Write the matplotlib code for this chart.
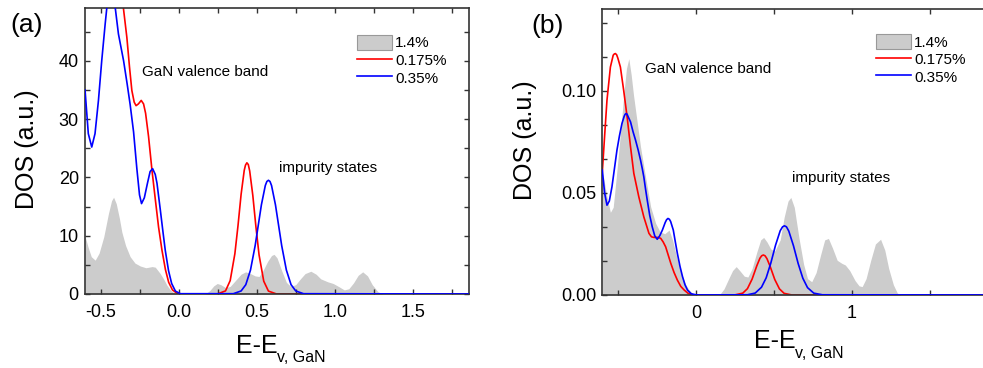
import matplotlib
matplotlib.use("Agg")
import matplotlib.pyplot as plt
from matplotlib.patches import Patch
from matplotlib.lines import Line2D
from matplotlib.ticker import MultipleLocator, FormatStrFormatter

plt.rcParams['font.family'] = ['Liberation Sans', 'DejaVu Sans']
plt.rcParams['axes.unicode_minus'] = False

# ---------------- panel (a) data ----------------
a_grey_x = [-0.60, -0.58, -0.56, -0.535, -0.51, -0.48, -0.45, -0.43, -0.417, -0.40, -0.38, -0.364,
            -0.34, -0.311, -0.28, -0.246, -0.21, -0.17, -0.15, -0.118, -0.095, -0.075, -0.05, -0.021,
            0.0, 0.17, 0.20, 0.225, 0.247, 0.27, 0.30, 0.33, 0.36, 0.40, 0.429, 0.46, 0.49, 0.515,
            0.54, 0.57, 0.595, 0.611, 0.63, 0.66, 0.69, 0.718, 0.75, 0.78, 0.81, 0.847, 0.88, 0.91,
            0.954, 0.99, 1.03, 1.061, 1.09, 1.12, 1.15, 1.179, 1.21, 1.24, 1.276, 1.31, 1.90]
a_grey_y = [9.9, 8.0, 6.4, 5.8, 7.0, 9.8, 13.8, 16.0, 16.6, 15.5, 13.0, 10.6,
            8.3, 6.4, 5.3, 4.8, 4.5, 4.7, 4.6, 3.5, 2.5, 1.5, 0.6, 0.05,
            0.0, 0.0, 0.6, 1.4, 1.8, 1.6, 1.1, 1.3, 2.2, 3.4, 3.8, 3.5, 3.1, 3.0,
            4.0, 5.6, 6.6, 6.8, 6.2, 4.0, 2.0, 1.3, 1.6, 2.6, 3.5, 3.9, 3.4, 2.6,
            2.1, 1.8, 1.2, 0.7, 0.9, 1.9, 3.2, 3.8, 3.1, 1.6, 0.4, 0.0, 0.0]

a_red_x = [-0.60, -0.50, -0.43, -0.38, -0.354, -0.332, -0.315, -0.300, -0.285, -0.273, -0.258,
           -0.240, -0.225, -0.212, -0.193, -0.171, -0.150, -0.129, -0.107, -0.085, -0.064, -0.040,
           -0.010, 0.020, 0.250, 0.30, 0.33, 0.36, 0.38, 0.40, 0.42, 0.428, 0.437, 0.446, 0.455,
           0.475, 0.495, 0.515, 0.545, 0.575, 0.625, 1.90]
a_red_y = [56, 66, 68, 58, 49, 44.0, 38.9, 34.9, 32.9, 32.3, 32.6,
           33.2, 32.6, 31.0, 27.0, 21.2, 16.3, 11.5, 7.5, 4.2, 2.0, 0.7,
           0.1, 0.0, 0.02, 0.53, 2.3, 6.9, 11.7, 17.1, 21.2, 22.1, 22.5, 22.2, 21.1,
           16.9, 11.5, 6.7, 2.2, 0.5, 0.02, 0.0]

a_blue_x = [-0.60, -0.579, -0.557, -0.536, -0.514, -0.493, -0.471, -0.455, -0.435, -0.415, -0.407,
            -0.386, -0.353, -0.330, -0.311, -0.289, -0.268, -0.251, -0.238, -0.220, -0.200, -0.183,
            -0.167, -0.150, -0.139, -0.118, -0.100, -0.086, -0.065, -0.045, -0.021, 0.011, 0.35,
            0.40, 0.43, 0.46, 0.49, 0.51, 0.53, 0.555, 0.565, 0.575, 0.585, 0.595, 0.62, 0.64, 0.66,
            0.69, 0.72, 0.75, 0.80, 1.90]
a_blue_y = [35.0, 27.5, 25.2, 27.5, 33.2, 40.0, 46.3, 50.5, 52.0, 50.5, 49.2,
            44.6, 40.0, 36.0, 32.5, 27.8, 21.5, 17.0, 15.5, 16.5, 19.0, 21.0,
            21.5, 20.5, 19.0, 14.5, 10.5, 7.5, 4.0, 1.8, 0.5, 0.05, 0.05,
            0.52, 1.6, 4.1, 8.3, 11.8, 15.3, 18.6, 19.3, 19.5, 19.3, 18.6, 15.3, 11.8, 8.3,
            4.1, 1.6, 0.52, 0.05, 0.0]

# ---------------- panel (b) data ----------------
b_grey_x = [-0.60, -0.57, -0.548, -0.53, -0.51, -0.484, -0.46, -0.445, -0.430, -0.415, -0.40, -0.387,
            -0.355, -0.323, -0.290, -0.258, -0.230, -0.20, -0.172, -0.150, -0.129, -0.108, -0.086,
            -0.065, -0.043, -0.02, 0.0, 0.15, 0.18, 0.21, 0.235, 0.258, 0.28, 0.31, 0.333, 0.36,
            0.39, 0.415, 0.434, 0.455, 0.48, 0.505, 0.54, 0.565, 0.59, 0.608, 0.63, 0.66, 0.69,
            0.715, 0.742, 0.77, 0.80, 0.825, 0.849, 0.875, 0.905, 0.935, 0.957, 0.985, 1.02,
            1.045, 1.065, 1.09, 1.12, 1.15, 1.183, 1.21, 1.235, 1.265, 1.29, 1.31, 1.90]
b_grey_y = [0.0612, 0.048, 0.0405, 0.043, 0.058, 0.079, 0.100, 0.111, 0.1158, 0.108, 0.098, 0.0906,
            0.0726, 0.0579, 0.0432, 0.0351, 0.031, 0.030, 0.0318, 0.027, 0.0204, 0.014, 0.009,
            0.005, 0.0024, 0.0005, 0.0, 0.0, 0.003, 0.008, 0.012, 0.0139, 0.012, 0.0092, 0.0088, 0.013,
            0.021, 0.027, 0.0282, 0.026, 0.0225, 0.0215, 0.027, 0.038, 0.046, 0.0478, 0.043, 0.028, 0.015,
            0.008, 0.0065, 0.011, 0.020, 0.027, 0.0277, 0.023, 0.017, 0.0155, 0.0147, 0.012, 0.007,
            0.0045, 0.0041, 0.008, 0.017, 0.025, 0.0273, 0.022, 0.013, 0.005, 0.001, 0.0, 0.0]

b_red_x = [-0.60, -0.585, -0.570, -0.548, -0.530, -0.523, -0.516, -0.508, -0.500, -0.484, -0.463,
           -0.441, -0.419, -0.398, -0.366, -0.334, -0.301, -0.285, -0.269, -0.245, -0.226, -0.210,
           -0.194, -0.161, -0.140, -0.119, -0.097, -0.075, -0.050, -0.022, 0.0, 0.25, 0.30, 0.33,
           0.36, 0.39, 0.41, 0.421, 0.432, 0.443, 0.455, 0.475, 0.505, 0.535, 0.565, 0.615, 1.90]
b_red_y = [0.060, 0.078, 0.0954, 0.1117, 0.1175, 0.1181, 0.1183, 0.1177, 0.116, 0.1117, 0.1003,
           0.0873, 0.0726, 0.0596, 0.0481, 0.0383, 0.0302, 0.0285, 0.0282, 0.0282, 0.0278, 0.026,
           0.0236, 0.0155, 0.011, 0.0073, 0.0042, 0.0024, 0.0008, 0.0001, 0.0, 0.00005, 0.0009, 0.0031,
           0.0078, 0.0143, 0.018, 0.0192, 0.0196, 0.0192, 0.0178, 0.0141, 0.0076, 0.003, 0.0008, 0.0, 0.0]

b_blue_x = [-0.60, -0.585, -0.570, -0.555, -0.538, -0.522, -0.506, -0.490, -0.474, -0.460, -0.454,
            -0.448, -0.441, -0.435, -0.419, -0.403, -0.387, -0.370, -0.355, -0.344, -0.334, -0.323,
            -0.312, -0.296, -0.280, -0.264, -0.248, -0.232, -0.215, -0.197, -0.188, -0.179, -0.170,
            -0.162, -0.145, -0.132, -0.119, -0.102, -0.086, -0.070, -0.054, -0.030, 0.0, 0.02, 0.33,
            0.38, 0.42, 0.45, 0.48, 0.51, 0.54, 0.555, 0.567, 0.58, 0.595, 0.625, 0.655, 0.685,
            0.715, 0.755, 0.81, 1.90]
b_blue_y = [0.0612, 0.050, 0.044, 0.046, 0.053, 0.062, 0.071, 0.078, 0.084, 0.0875, 0.0885,
            0.0889, 0.0886, 0.0875, 0.0848, 0.080, 0.0759, 0.071, 0.0661, 0.062, 0.0579, 0.052,
            0.0465, 0.039, 0.0334, 0.029, 0.0273, 0.029, 0.0318, 0.0355, 0.0369, 0.0375, 0.0371,
            0.036, 0.0318, 0.026, 0.0204, 0.014, 0.009, 0.005, 0.0024, 0.0006, 0.0001, 0.0, 0.0001,
            0.00095, 0.0038, 0.0084, 0.0157, 0.0244, 0.0315, 0.0334, 0.0339, 0.0334, 0.0313, 0.0241,
            0.0154, 0.0082, 0.0036, 0.0009, 0.0001, 0.0]

labels = ['1.4%', '0.175%', '0.35%']
grey = '#cccccc'
spine_col = '#333333'

fig = plt.figure(figsize=(9.83, 3.68), dpi=100)
ax_a = fig.add_axes([0.0865, 0.2011, 0.3906, 0.7764])
ax_b = fig.add_axes([0.6127, 0.1984, 0.3906, 0.7764])


def style_axes(ax, right=True):
    for s in ax.spines.values():
        s.set_color(spine_col)
        s.set_linewidth(1.2)
    ax.tick_params(which='both', direction='in', top=True, right=right,
                   length=3.5, width=1.0, color=spine_col, labelsize=13)
    ax.tick_params(axis='x', pad=7)
    ax.tick_params(axis='y', pad=4.5)


for ax, gx, gy, rx, ry, bx, by in [(ax_a, a_grey_x, a_grey_y, a_red_x, a_red_y, a_blue_x, a_blue_y),
                                   (ax_b, b_grey_x, b_grey_y, b_red_x, b_red_y, b_blue_x, b_blue_y)]:
    ax.fill_between(gx, gy, 0, color=grey, lw=0, zorder=1)
    ax.plot(rx, ry, color='#ff0000', lw=1.2, zorder=2)
    ax.plot(bx, by, color='#0000ff', lw=1.2, zorder=3)
    ax.set_xlim(-0.6, 1.86)

style_axes(ax_a)
style_axes(ax_b, right=False)

# panel (a) axes
ax_a.set_ylim(0, 49)
ax_a.xaxis.set_major_locator(MultipleLocator(0.5))
ax_a.xaxis.set_minor_locator(MultipleLocator(0.25))
ax_a.xaxis.set_major_formatter(FormatStrFormatter('%.1f'))
ax_a.yaxis.set_major_locator(MultipleLocator(10))
ax_a.yaxis.set_minor_locator(MultipleLocator(5))

# panel (b) axes
ax_b.set_ylim(0, 0.14)
ax_b.xaxis.set_major_locator(MultipleLocator(1))
ax_b.xaxis.set_minor_locator(MultipleLocator(0.5))
ax_b.xaxis.set_major_formatter(FormatStrFormatter('%d'))
ax_b.yaxis.set_major_locator(MultipleLocator(0.05))
ax_b.yaxis.set_minor_locator(MultipleLocator(0.05 / 3))
ax_b.yaxis.set_major_formatter(FormatStrFormatter('%.2f'))

# annotations
ax_a.text(-0.232, 38.0, 'GaN valence band', fontsize=11, va='center', ha='left')
ax_a.text(0.640, 21.6, 'impurity states', fontsize=11, va='center', ha='left')
ax_b.text(-0.327, 0.1106, 'GaN valence band', fontsize=11, va='center', ha='left')
ax_b.text(0.613, 0.0574, 'impurity states', fontsize=11, va='center', ha='left')

# legends
for ax, anchor in [(ax_a, (0.708, 0.9066)), (ax_b, (0.713, 0.9135))]:
    handles = [Patch(facecolor=grey, edgecolor='#999999', lw=0.8),
               Line2D([], [], color='#ff0000', lw=1.2),
               Line2D([], [], color='#0000ff', lw=1.2)]
    ax.legend(handles, labels, loc='upper left', bbox_to_anchor=anchor, frameon=False,
              fontsize=11, handlelength=2.3, handleheight=1.1, labelspacing=0.13,
              handletextpad=0.2, borderpad=0, borderaxespad=0)

# panel letters and axis titles
fig.text(10 / 983, 1 - 31.7 / 368, '(a)', fontsize=19, ha='left', va='baseline')
fig.text(531 / 983, 1 - 32.5 / 368, '(b)', fontsize=19, ha='left', va='baseline')
fig.text(27 / 983, 1 - 149 / 368, 'DOS (a.u.)', fontsize=18, rotation=90, ha='center', va='center')
fig.text(525 / 983, 1 - 140 / 368, 'DOS (a.u.)', fontsize=18, rotation=90, ha='center', va='center')

# x labels: E-E with a smaller subscript
for x0, base, xs in [(236, 353, 277), (754, 348.3, 795)]:
    fig.text(x0 / 983, 1 - base / 368, 'E-E', fontsize=18, ha='left', va='baseline')
    fig.text(xs / 983, 1 - (base + 9.5) / 368, 'v, GaN', fontsize=11.5, ha='left', va='baseline')

fig.savefig('out.png', dpi=100)
